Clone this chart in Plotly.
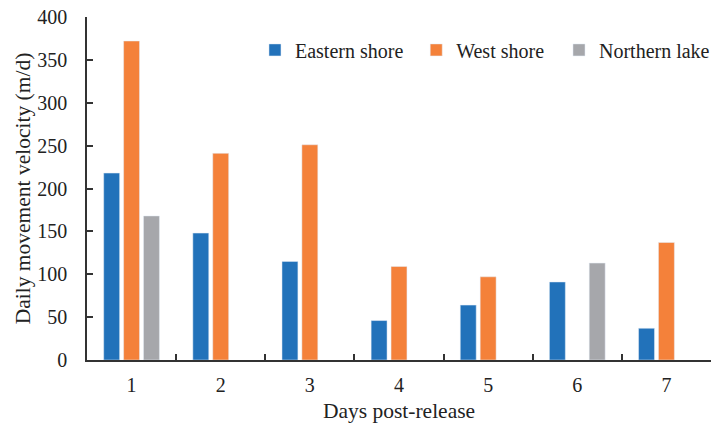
import plotly.graph_objects as go

days = ["1", "2", "3", "4", "5", "6", "7"]
eastern_shore = [218, 148, 115, 46, 64, 91, 37]
west_shore = [372, 241, 251, 109, 97, None, 137]
northern_lake = [168, None, None, None, None, 113, None]

y_ticks = [0, 50, 100, 150, 200, 250, 300, 350, 400]

font_family = "Liberation Serif"
axis_color = "#333333"

fig = go.Figure()
fig.add_trace(go.Bar(name="Eastern shore", x=days, y=eastern_shore,
                     marker_color="#2272BA", legend="legend"))
fig.add_trace(go.Bar(name="West shore", x=days, y=west_shore,
                     marker_color="#F4813A", legend="legend2"))
fig.add_trace(go.Bar(name="Northern lake", x=days, y=northern_lake,
                     marker_color="#A6A7AB", legend="legend3"))


def legend_box(x):
    # one key entry per series, spread along the top of the plot
    return dict(
        orientation="h",
        x=x,
        y=0.904,
        xanchor="left",
        yanchor="middle",
        font=dict(size=20),
        bgcolor="rgba(0,0,0,0)",
    )


fig.update_layout(
    width=711,
    height=424,
    margin=dict(l=87, r=0, t=17, b=64, autoexpand=False),
    paper_bgcolor="white",
    plot_bgcolor="white",
    showlegend=True,
    barmode="group",
    bargap=0.33,
    bargroupgap=0.2,
    font=dict(family=font_family, size=20, color="#222222"),
    legend=legend_box(0.2692),
    legend2=legend_box(0.5276),
    legend3=legend_box(0.7564),
    xaxis=dict(
        type="category",
        showline=True,
        linecolor=axis_color,
        linewidth=1.5,
        ticks="inside",
        tickson="boundaries",
        ticklen=6,
        tickcolor=axis_color,
        tickwidth=1.5,
        showgrid=False,
        tickfont=dict(size=20),
        ticklabelstandoff=6,
        title=dict(text="Days post-release", font=dict(size=21.5), standoff=8),
    ),
    yaxis=dict(
        range=[0, 400],
        tickvals=y_ticks,
        showline=True,
        linecolor=axis_color,
        linewidth=1.5,
        ticks="inside",
        ticklen=6,
        tickcolor=axis_color,
        tickwidth=1.5,
        showgrid=False,
        zeroline=False,
        tickfont=dict(size=20),
        ticklabelstandoff=14,
        title=dict(text="Daily movement velocity (m/d)", font=dict(size=21.5), standoff=1),
    ),
)

fig.write_html("out.html")
